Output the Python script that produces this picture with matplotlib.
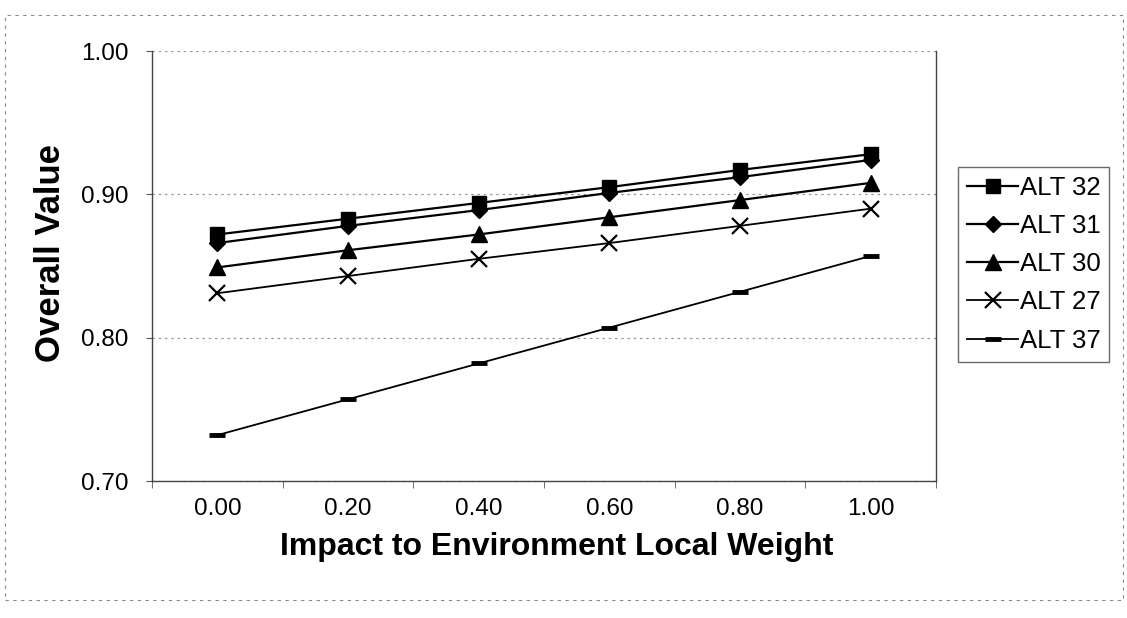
import numpy as np
import matplotlib.pyplot as plt
from matplotlib.patches import Rectangle

plt.rcParams['font.family'] = ['Liberation Sans', 'DejaVu Sans']

weights = ['0.00', '0.20', '0.40', '0.60', '0.80', '1.00']
alt32 = [0.872, 0.883, 0.894, 0.905, 0.917, 0.928]
alt31 = [0.866, 0.878, 0.889, 0.901, 0.912, 0.924]
alt30 = [0.849, 0.861, 0.872, 0.884, 0.896, 0.908]
alt27 = [0.831, 0.843, 0.855, 0.866, 0.878, 0.890]
alt37 = [0.732, 0.757, 0.782, 0.807, 0.832, 0.857]
names = ['ALT 32', 'ALT 31', 'ALT 30', 'ALT 27', 'ALT 37']

fig = plt.figure(figsize=(11.27, 6.18), dpi=100)
ax = fig.add_axes([152/1127, 1-481/618, (936-152)/1127, (481-51)/618])

x = np.arange(len(weights))
ax.plot(x, alt32, color='black', lw=1.6, marker='s', ms=10, label=names[0])
ax.plot(x, alt31, color='black', lw=1.6, marker='D', ms=8, label=names[1])
ax.plot(x, alt30, color='black', lw=1.6, marker='^', ms=11, label=names[2])
ax.plot(x, alt27, color='black', lw=1.3, marker='x', ms=11, mew=1.6, label=names[3])
ax.plot(x, alt37, color='black', lw=1.3, marker='_', ms=11, mew=3.5, label=names[4])

ax.set_xlim(-0.5, len(weights) - 0.5)
ax.set_ylim(0.70, 1.00)
ax.set_xticks(x)
ax.set_xticklabels(weights)
ax.set_xticks(np.arange(len(weights) + 1) - 0.5, minor=True)
ax.tick_params(axis='x', which='major', length=0, labelsize=17.5, pad=12)
ax.tick_params(axis='x', which='minor', length=5, direction='out', color='#555555')
ax.set_yticks([0.70, 0.80, 0.90, 1.00])
ax.set_yticklabels(['0.70', '0.80', '0.90', '1.00'])
ax.tick_params(axis='y', length=4, labelsize=17.5, pad=13, color='#555555')

ax.grid(axis='y', color='#999999', linestyle=(0, (2, 3)), lw=0.9)
ax.set_axisbelow(True)
for s in ['left', 'bottom', 'right']:
    ax.spines[s].set_color('#444444')
    ax.spines[s].set_linewidth(1.0)
ax.spines['top'].set_visible(False)

ax.set_xlabel('Impact to Environment Local Weight', fontsize=23, fontweight='bold')
ax.set_ylabel('Overall Value', fontsize=25, fontweight='bold')
ax.xaxis.set_label_coords((557-152)/784, (481-547)/430, transform=ax.transAxes)
ax.yaxis.set_label_coords((50-152)/784, (481-253)/430, transform=ax.transAxes)
ax.xaxis.label.set_va('center')
ax.yaxis.label.set_va('center')

leg = fig.legend(loc='upper left', bbox_to_anchor=(958/1127, 1-167/618), fontsize=18.5,
                 frameon=True, fancybox=False, edgecolor='#444444', handlelength=2.0,
                 borderpad=0.35, labelspacing=0.55, handletextpad=0.05, borderaxespad=0)
leg.get_frame().set_linewidth(1.0)

fig.patches.append(Rectangle((5/1127, 1-600/618), 1118/1127, 585/618, transform=fig.transFigure,
                             fill=False, edgecolor='#888888', lw=0.8, linestyle=(0, (3, 4))))

fig.savefig('out.png', dpi=100)
